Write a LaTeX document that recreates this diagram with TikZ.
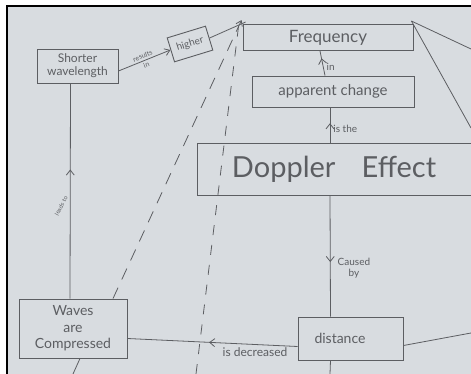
\documentclass[tikz,border=0pt]{standalone}
\usepackage{fontspec}
\setmainfont{Lato}
\usetikzlibrary{arrows.meta, decorations.markings}
\definecolor{paper}{HTML}{D8DCE0}
\definecolor{pencil}{HTML}{5C5E62}
\tikzstyle{concept} = [rectangle, draw=pencil, line width=0.9pt, text=pencil, align=center, inner sep=1pt]
\tikzstyle{link} = [draw=pencil, line width=0.8pt]
\tikzstyle{arrow} = [link, -{Straight Barb[length=5pt, width=7pt]}]
\tikzstyle{lbl} = [text=pencil, align=center, inner sep=1pt]
\tikzset{midarrow/.style={postaction={decorate}, decoration={markings, mark=at position #1 with {\arrow{Straight Barb[length=5pt, width=8pt]}}}}}

\begin{document}
\begin{tikzpicture}[x=1pt, y=-1pt]
\useasboundingbox (0,0) rectangle (471,374);
\fill[paper] (7,6) rectangle (471,374);
\draw[line width=1.3pt] (7,374) -- (7,6) -- (471,6);

% Concepts
\node (wave) [concept, minimum width=81pt, minimum height=34pt, font=\fontsize{12}{13}\selectfont] at (77.5,66) {Shorter\\wavelength};
\node (higher) [concept, minimum width=40pt, minimum height=25pt, rotate=17, font=\fontsize{10}{11}\selectfont] at (190,44) {higher};
\node (freq) [concept, minimum width=170pt, minimum height=26pt, font=\fontsize{17}{18}\selectfont] at (328,37.5) {Frequency};
\node (change) [concept, minimum width=162pt, minimum height=31pt, font=\fontsize{15}{16}\selectfont] at (333,91.5) {apparent change};
\node (doppler) [concept, minimum width=274pt, minimum height=52pt, font=\fontsize{29}{30}\selectfont] at (334,169) {Doppler\hspace{0.9em}Effect};
\node (waves) [concept, minimum width=108pt, minimum height=59pt, font=\fontsize{14}{16.5}\selectfont] at (73,328.5) {Waves\\are\\Compressed};
\node (dist) [concept, minimum width=105pt, minimum height=43pt, font=\fontsize{14}{15}\selectfont] at (350.5,338.5) {distance\hspace{1.5em}};

% Free ends (links leaving the sheet)
\coordinate (offA) at (471,49);
\coordinate (offB) at (471,128);
\coordinate (offC) at (196,374);
\coordinate (offD) at (471,333);
\coordinate (offE) at (330,374);
\coordinate (offF) at (73,374);

% Links
\draw [arrow] ([yshift=-5pt]wave.east) -- node[lbl, sloped, font=\fontsize{7}{8}\selectfont] {results\\[2pt]in} (higher.west);
\draw [link] (higher.east) -- ([xshift=3pt,yshift=2pt]freq.north west);
\draw [arrow, dashed, dash pattern=on 12pt off 9pt] ([xshift=40pt]waves.north) -- ([xshift=-1pt,yshift=4pt]freq.north west);
\draw [link, dashed, dash pattern=on 10pt off 10pt] (offC) -- ([xshift=-3pt,yshift=6pt]freq.north west);
\draw [link] ([xshift=-2pt,yshift=3pt]freq.north east) -- (offA);
\draw [link] ([xshift=-2pt,yshift=3pt]freq.north east) -- (offB);
\draw [link, midarrow=0.7] ([xshift=-8pt]change.north) -- node[lbl, right=2pt, pos=0.35, font=\fontsize{10}{11}\selectfont] {in} ([xshift=-8pt]freq.south);
\draw [link, midarrow=0.55] ([xshift=-4pt]doppler.north) -- node[lbl, right=2pt, pos=0.4, font=\fontsize{10}{11}\selectfont] {is the} ([xshift=-3pt]change.south);
\draw [link, midarrow=0.55] ([xshift=-4pt]doppler.south) -- node[lbl, right=6pt, pos=0.6, font=\fontsize{10}{11}\selectfont] {Caused\\by} ([xshift=-20pt]dist.north);
\draw [link, midarrow=0.6] ([xshift=-3pt]waves.north) -- node[lbl, pos=0.43, xshift=-9pt, rotate=62, font=\fontsize{6}{7}\selectfont] {leads to} ([xshift=-7pt]wave.south);
\draw [link, midarrow=0.52] ([yshift=-8pt]dist.west) -- node[lbl, below=2pt, pos=0.25, font=\fontsize{12}{13}\selectfont] {is decreased} ([yshift=-10pt]waves.east);
\draw [link] ([yshift=-7pt]dist.east) -- (offD);
\draw [link] ([xshift=-20pt]dist.south) -- (offE);
\draw [link] ([xshift=7pt]waves.south) -- (offF);

\end{tikzpicture}
\end{document}
